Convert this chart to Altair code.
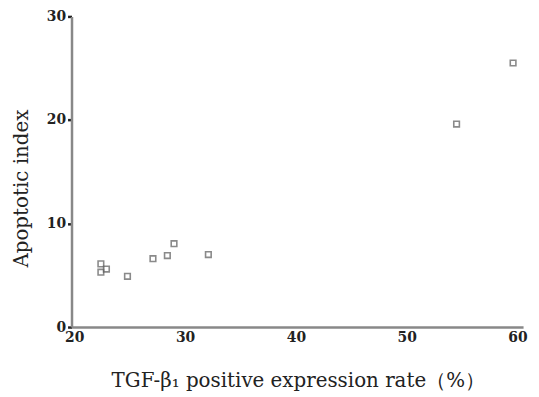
import altair as alt
import pandas as pd

tgf = [22.4, 22.9, 22.4, 24.8, 27.1, 28.4, 29.0, 32.1, 54.5, 59.6]
apoptotic = [6.1, 5.6, 5.3, 4.9, 6.6, 6.9, 8.05, 7.0, 19.6, 25.5]
x_ticks = [20, 30, 40, 50, 60]
y_ticks = [0, 10, 20, 30]

df = pd.DataFrame({"tgf": tgf, "ai": apoptotic})

serif = "DejaVu Serif"

chart = alt.Chart(df).mark_point(
    shape="square", filled=False, size=32, stroke="#5a5a5a", strokeWidth=1.6
).encode(
    x=alt.X("tgf:Q",
            scale=alt.Scale(domain=[19.75, 60.5], nice=False, zero=False),
            axis=alt.Axis(values=x_ticks, title="TGF-β₁ positive expression rate（%）",
                          grid=False, ticks=False, domainColor="#888888", domainWidth=2.5,
                          labelFont=serif, labelFontWeight="bold", labelFontSize=14,
                          labelColor="#222222", labelPadding=4,
                          titleFont=serif, titleFontSize=20, titleFontWeight="normal",
                          titleColor="#222222", titleX=228, titleY=54,
                          titleAlign="center", titleBaseline="middle")),
    y=alt.Y("ai:Q",
            scale=alt.Scale(domain=[0, 30], nice=False),
            axis=alt.Axis(values=y_ticks, title="Apoptotic index",
                          grid=False, ticks=True, tickSize=4, tickWidth=2.5, tickColor="#222222",
                          domainColor="#888888", domainWidth=2.5,
                          labelFont=serif, labelFontWeight="bold", labelFontSize=14,
                          labelColor="#222222", labelPadding=2,
                          titleFont=serif, titleFontSize=20, titleFontWeight="normal",
                          titleColor="#222222", titleX=-50, titleY=173, titleAngle=-90,
                          titleAlign="center", titleBaseline="middle")),
).properties(
    width=455, height=313,
    autosize=alt.AutoSizeParams(type="none"),
    padding={"left": 64, "top": 7, "right": 8, "bottom": 69},
    background="white",
).configure_view(stroke=None)

chart.save("out.html", embed_options={"renderer": "svg", "actions": False})
